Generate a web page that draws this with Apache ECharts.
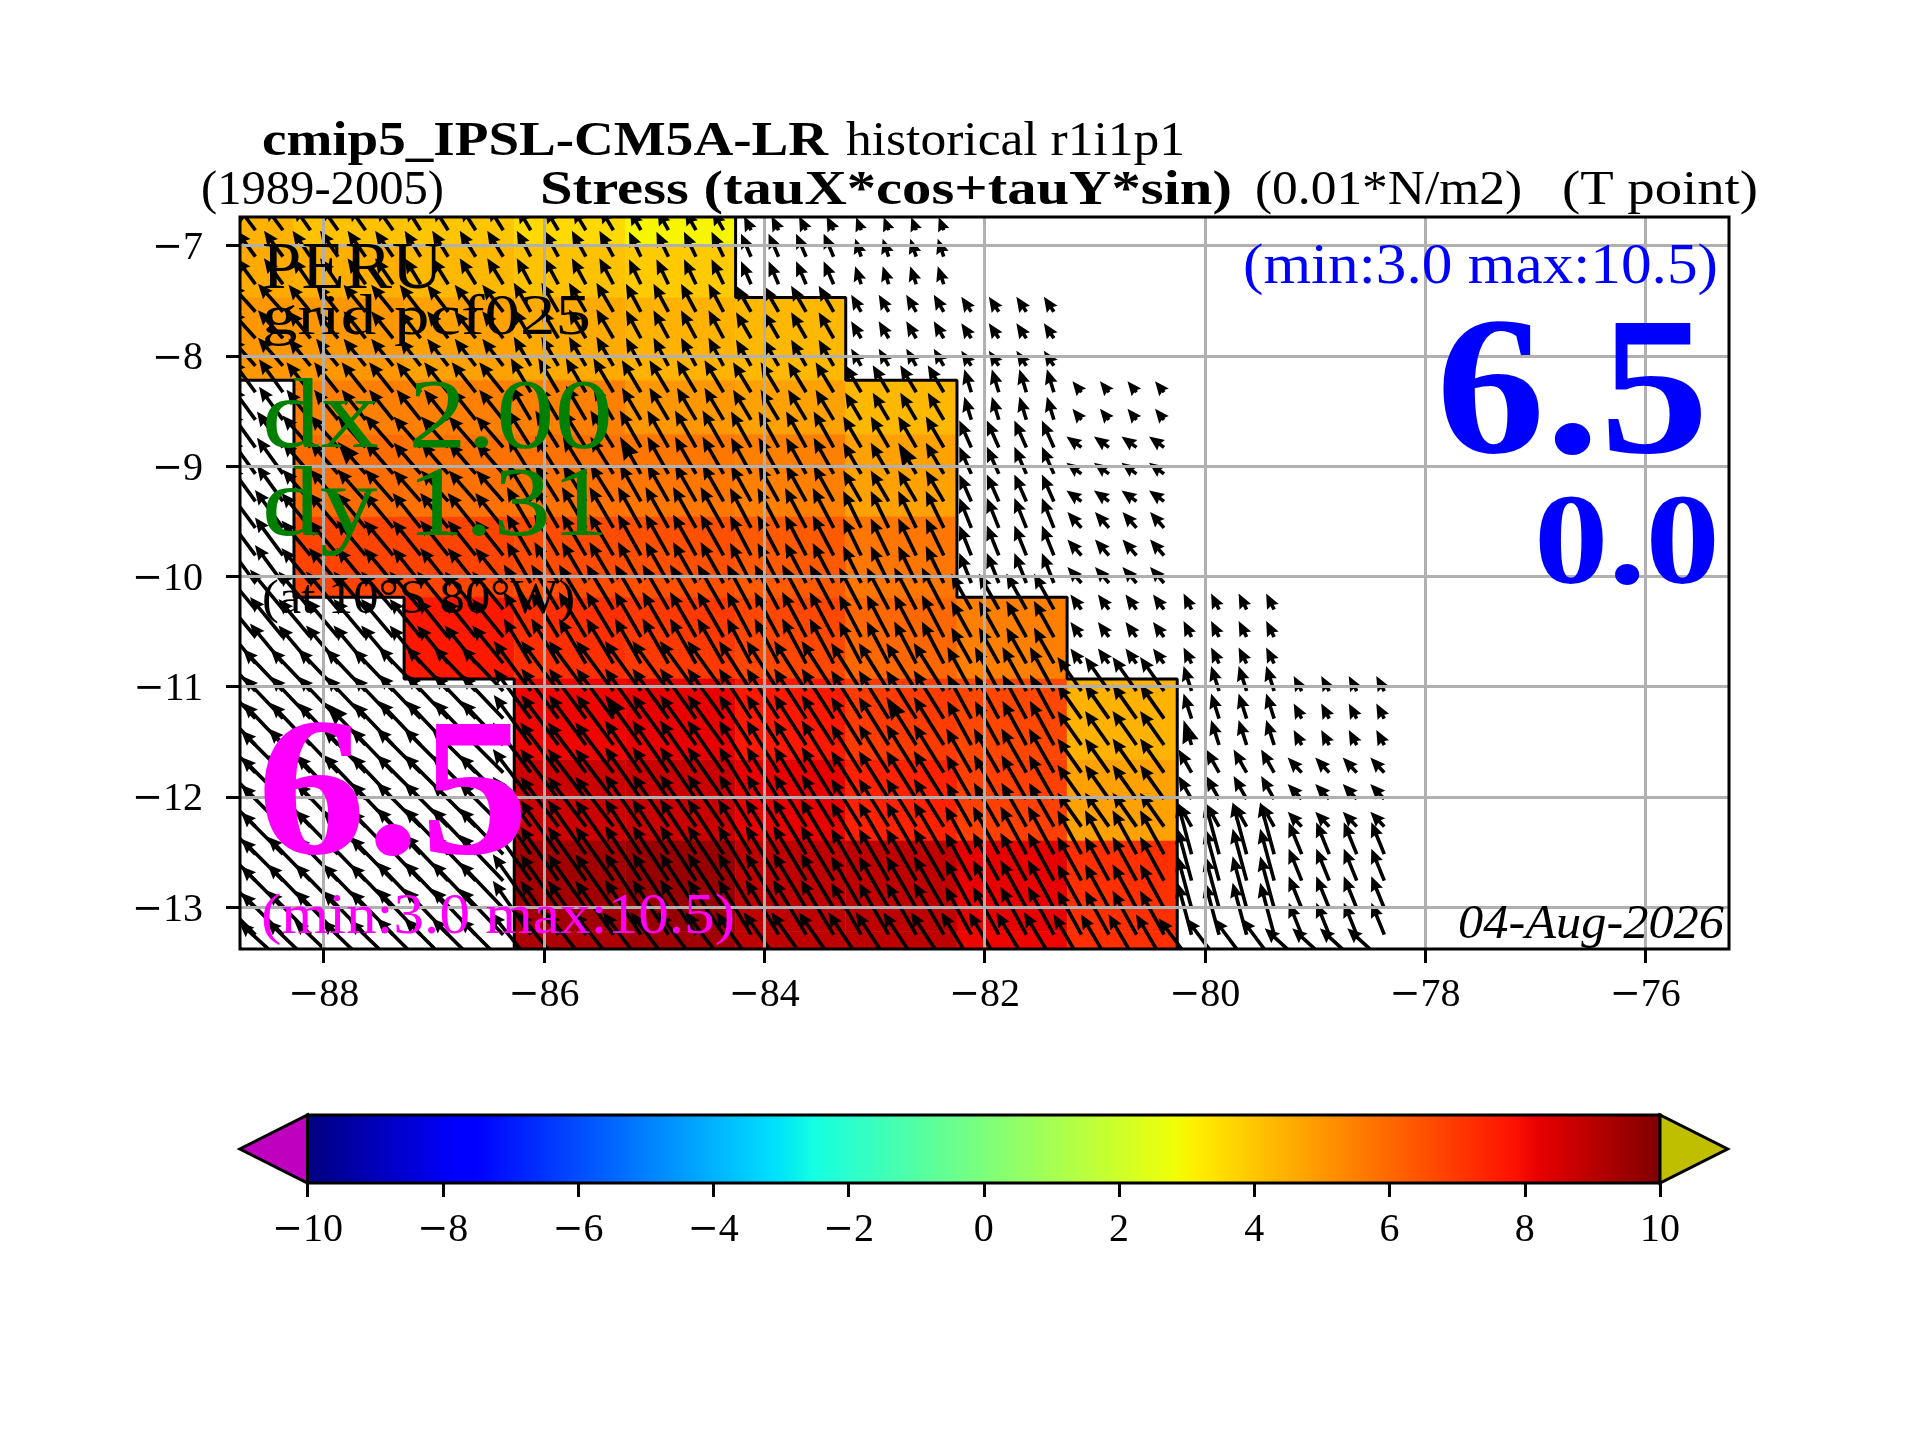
<!DOCTYPE html>
<html><head><meta charset="utf-8">
<style>html,body{margin:0;padding:0;background:#fff}#c{width:1920px;height:1440px}</style>
<script src="https://cdn.jsdelivr.net/npm/echarts@6/dist/echarts.min.js"></script>
</head><body><div id="c"></div>
<script>
// ---------- tick labels ----------
const xTicks = [-88,-86,-84,-82,-80,-78,-76];
const yTicks = [-7,-8,-9,-10,-11,-12,-13];
const cbarTicks = [-10,-8,-6,-4,-2,0,2,4,6,8,10];
// ---------- coarse cell edges ----------
const cellLon = [-88.76,-88.27,-87.27,-86.27,-85.26,-84.26,-83.26,-82.25,-81.25,-80.25];
const cellLat = [-6.74,-7.0,-7.47,-8.22,-8.71,-9.46,-10.19,-10.93,-11.66,-12.40,-13.22,-13.38];
// ---------- cell values (rows north to south, columns west to east) ----------
const _ = null;
const cellValues = [
 [4.4,4.1,4.0,3.6,3.0,_,_,_,_],
 [4.6,4.5,4.3,4.1,3.9,_,_,_,_],
 [5.0,5.0,4.8,4.6,4.4,4.3,_,_,_],
 [_,5.5,5.5,5.5,5.0,4.8,4.3,_,_],
 [_,5.9,5.8,5.8,5.7,5.5,4.8,_,_],
 [_,6.75,6.75,6.6,6.5,6.3,5.7,_,_],
 [_,_,7.7,7.2,7.0,6.7,6.0,5.5,_],
 [_,_,_,8.1,8.2,7.7,6.95,6.7,4.4],
 [_,_,_,8.7,8.75,8.2,7.5,6.85,4.8],
 [_,_,_,9.4,9.6,8.9,8.9,8.2,7.2],
 [_,_,_,9.2,9.4,8.9,8.9,8.1,7.2]
];
// ---------- quiver sample rows and columns ----------
const arrowLon = [-88.62,-88.37,-88.12,-87.87,-87.62,-87.37,-87.12,-86.87,-86.62,-86.37,-86.12,-85.87,-85.62,-85.37,-85.12,-84.87,-84.62,-84.37,-84.12,-83.87,-83.62,-83.37,-83.12,-82.87,-82.62,-82.37,-82.12,-81.87,-81.62,-81.37,-81.12,-80.87,-80.62,-80.37,-80.12,-79.87,-79.62,-79.37,-79.12,-78.87,-78.62,-78.37];
const arrowLat = [-6.86,-7.10,-7.35,-7.60,-7.84,-8.09,-8.33,-8.58,-8.83,-9.07,-9.32,-9.56,-9.81,-10.06,-10.30,-10.55,-10.79,-11.04,-11.29,-11.53,-11.78,-12.02,-12.27,-12.52,-12.76,-13.01,-13.25,-13.50];
// ---------- stress components per coarse cell, columns extended east of the shading ----------
const windLon = [-88.77,-88.27,-87.27,-86.27,-85.27,-84.27,-83.27,-82.27,-81.27,-80.27,-79.27,-78.27];
const windLat = [-6.74,-7.0,-7.47,-8.22,-8.71,-9.46,-10.19,-10.93,-11.66,-12.40,-13.37,-13.6];
const windU = [
 [-1.8,-1.7,-1.5,-1.3,-1.1,-0.7,-0.5,_,_,_,_],
 [-1.9,-1.8,-1.6,-1.4,-1.2,-1.0,-0.6,_,_,_,_],
 [-2.5,-2.2,-2.1,-1.7,-1.5,-1.5,-1.0,-1.0,_,_,_],
 [-2.4,-2.4,-2.4,-2.0,-1.9,-1.8,-1.6,-0.7,-0.9,_,_],
 [-2.6,-2.8,-2.7,-2.3,-2.1,-2.0,-1.8,-1.2,-1.5,_,_],
 [-2.8,-2.9,-2.8,-2.4,-2.3,-2.1,-1.8,-1.2,-1.4,_,_],
 [-3.3,-3.2,-3.1,-2.7,-2.6,-2.4,-2.2,-2.0,-1.1,-0.8,_],
 [-4.0,-4.0,-4.2,-3.7,-3.6,-3.2,-3.0,-2.4,-2.4,-0.8,-0.8],
 [-4.2,-4.2,-4.4,-3.8,-3.6,-3.2,-3.0,-2.5,-2.4,-1.3,-1.4],
 [-4.2,-4.3,-4.4,-3.8,-3.6,-3.3,-3.0,-2.6,-2.4,-1.4,-1.3],
 [-4.4,-4.4,-4.4,-4.0,-3.8,-3.5,-3.3,-3.0,-2.8,-3.3,-3.7]
];
const windV = [
 [2.4,2.4,2.4,2.2,2.0,1.4,1.3,_,_,_,_],
 [2.6,2.6,2.6,2.6,2.5,2.3,1.8,_,_,_,_],
 [2.8,2.7,2.7,2.9,2.8,2.6,1.7,1.5,_,_,_],
 [3.3,3.0,3.0,3.4,3.2,3.0,2.7,2.3,1.1,_,_],
 [3.6,3.2,3.1,3.7,3.7,3.6,3.1,2.7,1.1,_,_],
 [3.8,3.5,3.5,4.1,4.1,4.0,3.7,3.0,1.6,_,_],
 [4.0,3.8,3.8,4.5,4.5,4.5,4.2,3.6,1.5,1.6,_],
 [4.2,4.2,4.4,5.0,5.0,5.0,4.8,4.4,3.4,2.5,1.5],
 [4.2,4.4,4.4,5.0,5.2,5.2,4.8,4.4,3.4,2.3,1.5],
 [4.2,4.4,4.6,5.4,5.5,5.5,5.2,4.8,4.4,5.2,3.2],
 [4.0,4.2,4.4,5.0,5.0,5.0,5.0,5.0,4.8,4.4,3.4]
];
// samples drawn with a larger head
const bigLon = [-87.62,-85.12,-82.62,-80.12];
const bigLat = [-9.07,-11.53];
// ---------- land/sea outline ----------
const coastEast = [[-84.26,-6.74],[-84.26,-7.47],[-83.26,-7.47],[-83.26,-8.22],[-82.25,-8.22],[-82.25,-10.19],[-81.25,-10.19],[-81.25,-10.93],[-80.25,-10.93],[-80.25,-13.38]];
const coastWest = [[-88.76,-8.22],[-88.27,-8.22],[-88.27,-10.19],[-87.27,-10.19],[-87.27,-10.93],[-86.27,-10.93],[-86.27,-13.38]];
// ---------- colour scale (jet) ----------
const jetR=[[0,0],[.35,0],[.66,1],[.89,1],[1,.5]], jetG=[[0,0],[.125,0],[.375,1],[.64,1],[.91,0],[1,0]], jetB=[[0,.5],[.11,1],[.34,1],[.65,0],[1,0]];
const seg=(s,t)=>{for(let i=1;i<s.length;i++){if(t<=s[i][0]){const a=s[i-1],b=s[i];return a[1]+(b[1]-a[1])*(t-a[0])/(b[0]-a[0]);}}return s[s.length-1][1];};
const jet=t=>{t=Math.max(0,Math.min(1,t));return 'rgb('+[jetR,jetG,jetB].map(s=>Math.round(255*seg(s,t))).join(',')+')';};
const valColor=v=>jet((v+10)/20);
const jetStops=[0,.11,.125,.34,.35,.375,.64,.65,.66,.89,.91,1].map(o=>({offset:o,color:jet(o)}));

const FONT='"Liberation Serif"';
const GRID='#b0b0b0', LW=3;

// build marks from the tables
const cellData=[];
cellValues.forEach((row,r)=>row.forEach((v,c)=>{if(v!==null)cellData.push([cellLon[c],cellLon[c+1],cellLat[r],cellLat[r+1],v]);}));
const block=(edges,x,desc)=>{for(let i=0;i<edges.length-1;i++){if(desc?(x<=edges[i]&&x>edges[i+1]):(x>=edges[i]&&x<edges[i+1]))return i;}return -1;};
const arrowData=[];
arrowLat.forEach(la=>arrowLon.forEach(lo=>{
  const r=block(windLat,la,true),c=block(windLon,lo,false);
  if(r<0||c<0)return; const u=windU[r][c],v=windV[r][c];
  if(u===null||u===undefined)return;
  arrowData.push([lo,la,u,v,bigLon.includes(lo)&&bigLat.includes(la)?1:0]);
}));
const QUIVER=10;
function renderArrow(params,api){
  const p=api.coord([api.value(0),api.value(1)]);
  const dx=api.value(2)*QUIVER,dy=-api.value(3)*QUIVER,len=Math.hypot(dx,dy);
  const big=api.value(4)===1;
  let w=1.8,hw=6.5,hl=15,ha=13.5;
  if(big){hw=8.5;hl=23;ha=21;}
  let s=1; if(len<hl){s=len/hl;}
  const ux=dx/len,uy=dy/len,nx=-uy,ny=ux;
  const L=Math.max(len,hl*s);
  const pts=[[0,w*s],[L-ha*s,w*s],[L-hl*s,hw*s],[L,0],[L-hl*s,-hw*s],[L-ha*s,-w*s],[0,-w*s]];
  return {type:'polygon',shape:{points:pts.map(q=>[p[0]+ux*q[0]+nx*q[1],p[1]+uy*q[0]+ny*q[1]])},style:{fill:'#000'}};
}
function renderCell(params,api){
  const a=api.coord([api.value(0),api.value(2)]),b=api.coord([api.value(1),api.value(3)]);
  const col=valColor(api.value(4));
  return {type:'rect',shape:{x:a[0],y:a[1],width:b[0]-a[0],height:b[1]-a[1]},style:{fill:col,stroke:col,lineWidth:.5}};
}
function renderBar(params,api){
  const a=api.coord([api.value(0),1]),b=api.coord([api.value(1),0]);
  return {type:'rect',shape:{x:a[0],y:a[1],width:b[0]-a[0],height:b[1]-a[1]},style:{fill:{type:'linear',x:0,y:0,x2:1,y2:0,colorStops:jetStops}}};
}
function renderTip(params,api){
  const a=api.coord([api.value(0),1]),b=api.coord([api.value(0),0]),c=api.coord([api.value(1),.5]);
  return {type:'polygon',shape:{points:[a,b,c]},style:{fill:api.value(2)<0?'#bf00bf':'#bfbf00',stroke:'#000',lineWidth:LW,lineJoin:'miter'}};
}
// text, left, right, baseline, size, colour, weight, style
const texts=[
 ['cmip5_IPSL-CM5A-LR',262,828,155,48,'#000','bold'],
 ['historical r1i1p1',846,1185,155,48,'#000'],
 ['(1989-2005)',201,444,204,48,'#000'],
 ['Stress (tauX*cos+tauY*sin)',540,1232,204,48,'#000','bold'],
 ['(0.01*N/m2)',1255,1522,204,48,'#000'],
 ['(T point)',1562,1758,204,48,'#000'],
 ['PERU',262,443,288,67,'#000'],
 ['grid pcf025',262,591,334,58,'#000'],
 ['dx 2.00',262,613,447,100,'#008000'],
 ['dy 1.31',262,609,535,100,'#008000'],
 ['(at 10°S 80°W)',262,575,613,48,'#000'],
 ['6.5',257,529,853,197,'#ff00ff','bold'],
 ['(min:3.0 max:10.5)',261,735,933,58,'#ff00ff'],
 ['(min:3.0 max:10.5)',1243,1718,283,58,'#0000ff'],
 ['6.5',1436,1709,452,197,'#0000ff','bold'],
 ['0.0',1534,1720,583,130,'#0000ff','bold'],
 ['04-Aug-2026',1458,1724,938,48,'#000','normal','italic']
];
const mctx=document.createElement('canvas').getContext('2d');
const graphicEls=texts.map(t=>{
  const font=(t[7]||'normal')+' '+(t[6]||'normal')+' '+t[4]+'px '+FONT;
  mctx.font=font; const m=mctx.measureText(t[0]).width;
  return {type:'text',x:t[1],y:t[3]-0.26*t[4],scaleX:(t[2]-t[1])/m,z:100,silent:true,
    style:{text:t[0],fill:t[5],font:font,align:'left',verticalAlign:'middle'}};
});
const labelFmt=v=>v<0?'{m|\u2212}{d|'+Math.abs(v)+'}':'{d|'+v+'}';
const labelRich={m:{fontFamily:'"DejaVu Serif"',fontSize:37,color:'#000'},d:{fontFamily:FONT,fontSize:40,color:'#000'}};
const axisCommon={axisLine:{show:false},axisTick:{length:14,lineStyle:{color:'#000',width:LW}},
  axisLabel:{color:'#000',fontFamily:FONT,fontSize:40,formatter:labelFmt,rich:labelRich}};
const chart=echarts.init(document.getElementById('c'),null,{renderer:'canvas',width:1920,height:1440});
chart.setOption({
  animation:false,backgroundColor:'#fff',
  grid:[
    {left:240,top:217,width:1489,height:732,show:true,borderColor:'#000',borderWidth:LW,backgroundColor:'transparent',z:6},
    {left:307.5,top:1115,width:1352.5,height:68,show:true,borderColor:'#000',borderWidth:LW,backgroundColor:'transparent',z:6}
  ],
  xAxis:[
    {type:'value',gridIndex:0,min:-88.76,max:-75.24,z:5,...axisCommon,
     axisTick:{...axisCommon.axisTick,customValues:xTicks},
     axisLabel:{...axisCommon.axisLabel,customValues:xTicks,margin:26},
     splitLine:{show:true,lineStyle:{color:GRID,width:LW}}},
    {type:'value',gridIndex:1,min:-10,max:10,interval:2,z:5,...axisCommon,
     axisLabel:{...axisCommon.axisLabel,customValues:cbarTicks,margin:27},splitLine:{show:false}}
  ],
  yAxis:[
    {type:'value',gridIndex:0,min:-13.38,max:-6.74,z:5,...axisCommon,
     axisTick:{...axisCommon.axisTick,customValues:yTicks},
     axisLabel:{...axisCommon.axisLabel,customValues:yTicks,margin:37,padding:[6,0,0,0]},
     splitLine:{show:true,lineStyle:{color:GRID,width:LW}}},
    {type:'value',gridIndex:1,min:0,max:1,show:false}
  ],
  series:[
    {type:'custom',name:'cells',xAxisIndex:0,yAxisIndex:0,z:1,clip:true,silent:true,coordinateSystem:'cartesian2d',data:cellData,encode:{x:[0,1],y:[2,3]},renderItem:renderCell},
    {type:'custom',name:'stress',xAxisIndex:0,yAxisIndex:0,z:2,clip:true,silent:true,coordinateSystem:'cartesian2d',data:arrowData,encode:{x:0,y:1},renderItem:renderArrow},
    {type:'line',name:'coastE',xAxisIndex:0,yAxisIndex:0,z:3,data:coastEast,symbol:'none',silent:true,lineStyle:{color:'#000',width:LW}},
    {type:'line',name:'coastW',xAxisIndex:0,yAxisIndex:0,z:3,data:coastWest,symbol:'none',silent:true,lineStyle:{color:'#000',width:LW}},
    {type:'custom',name:'bar',xAxisIndex:1,yAxisIndex:1,z:1,silent:true,coordinateSystem:'cartesian2d',data:[[-10,10]],encode:{x:[0,1]},renderItem:renderBar},
    {type:'custom',name:'tips',xAxisIndex:1,yAxisIndex:1,z:7,silent:true,coordinateSystem:'cartesian2d',clip:false,data:[[-10,-11,-1],[10,11,1]],encode:{x:[0,1]},renderItem:renderTip}
  ],
  graphic:{elements:graphicEls}
});
</script></body></html>
